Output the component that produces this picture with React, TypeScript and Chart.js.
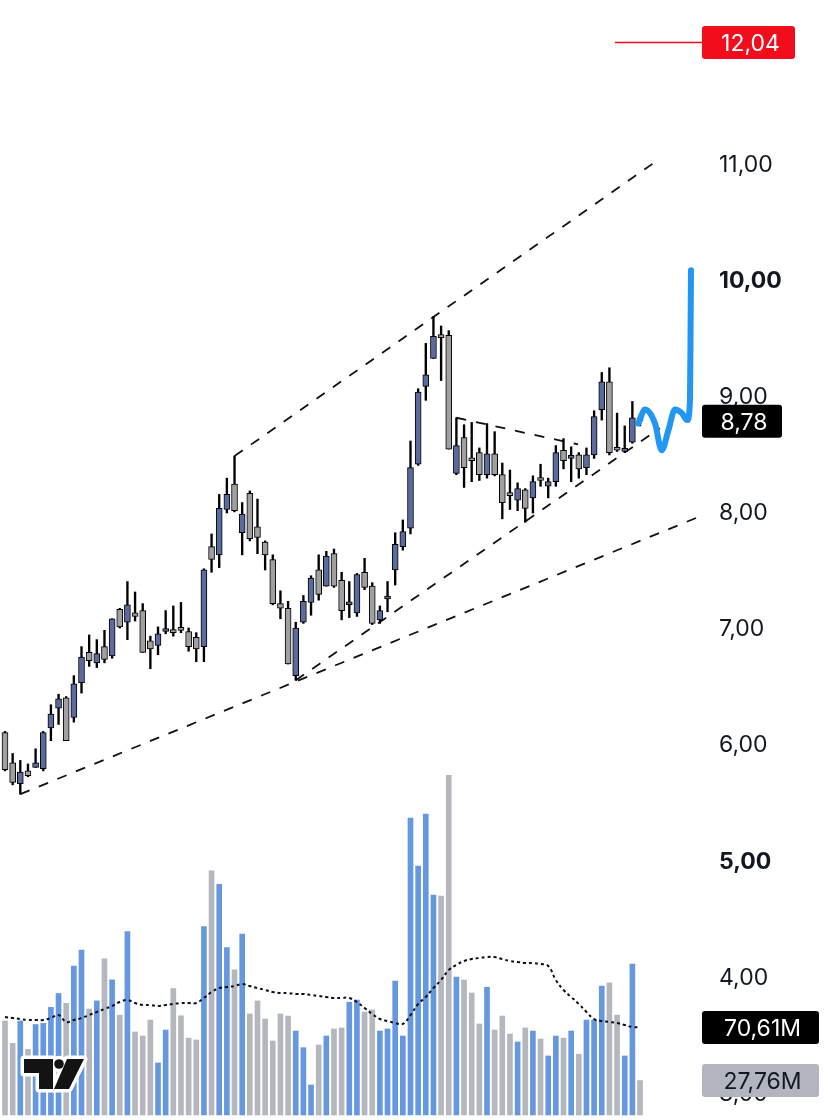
import { useEffect, useRef } from "react";
import { Chart, registerables } from "chart.js";

Chart.register(...registerables);

// ---- Data ----
const opens = [
  6.10, 5.84, 5.66, 5.77, 5.80, 5.79, 6.14, 6.31, 6.40, 6.23,
  6.53, 6.79, 6.70, 6.84, 6.76, 7.16, 7.05, 7.13, 7.15, 6.89,
  6.85, 6.97, 6.97, 6.99, 6.97, 6.92, 6.84, 7.70, 7.63, 8.02,
  8.24, 7.82, 8.16, 7.87, 7.74, 7.59, 7.21, 7.17, 6.59, 7.05,
  7.22, 7.50, 7.36, 7.64, 7.41, 7.20, 7.13, 7.48, 7.36, 7.07,
  7.25, 7.50, 7.70, 7.86, 8.41, 9.08, 9.32, 9.52, 9.52, 8.33,
  8.64, 8.45, 8.51, 8.32, 8.50, 8.32, 8.15, 8.10, 8.19, 8.12,
  8.28, 8.22, 8.26, 8.53, 8.46, 8.49, 8.38, 8.49, 8.88, 9.12,
  8.54, 8.52, 8.60, 8.81,
];
const highs = [
  6.11, 5.92, 5.86, 5.83, 5.96, 6.11, 6.34, 6.43, 6.41, 6.59,
  6.84, 6.94, 6.90, 6.98, 7.08, 7.17, 7.40, 7.31, 7.21, 6.93,
  7.01, 7.15, 7.19, 7.22, 7.00, 6.96, 7.51, 7.81, 8.15, 8.29,
  8.48, 8.08, 8.18, 8.11, 7.75, 7.63, 7.32, 7.23, 7.05, 7.28,
  7.45, 7.63, 7.66, 7.68, 7.48, 7.40, 7.47, 7.60, 7.39, 7.19,
  7.40, 7.82, 7.93, 8.61, 9.06, 9.45, 9.68, 9.60, 9.56, 8.81,
  8.75, 8.77, 8.55, 8.76, 8.69, 8.42, 8.36, 8.25, 8.20, 8.31,
  8.41, 8.29, 8.57, 8.63, 8.56, 8.51, 8.55, 8.87, 9.20, 9.24,
  8.85, 8.74, 8.95, 8.84,
];
const lows = [
  5.77, 5.65, 5.57, 5.72, 5.80, 5.77, 6.03, 6.17, 6.03, 6.19,
  6.44, 6.67, 6.66, 6.70, 6.74, 7.00, 6.90, 7.06, 6.79, 6.65,
  6.77, 6.95, 6.93, 6.96, 6.80, 6.71, 6.71, 7.48, 7.52, 7.99,
  8.00, 7.63, 7.75, 7.64, 7.50, 7.20, 7.08, 6.69, 6.55, 7.04,
  7.11, 7.24, 7.36, 7.35, 7.07, 7.09, 7.10, 7.33, 7.03, 7.04,
  7.14, 7.37, 7.67, 7.81, 8.40, 8.96, 9.32, 9.13, 8.54, 8.32,
  8.21, 8.26, 8.27, 8.29, 8.31, 7.94, 8.02, 8.01, 7.91, 7.99,
  8.22, 8.12, 8.22, 8.37, 8.26, 8.29, 8.32, 8.46, 8.79, 8.49,
  8.52, 8.51, 8.59, 8.74,
];
const closes = [
  5.78, 5.67, 5.76, 5.73, 5.84, 6.10, 6.26, 6.39, 6.03, 6.52,
  6.75, 6.72, 6.78, 6.73, 7.08, 7.01, 7.20, 7.10, 6.79, 6.82,
  6.95, 6.98, 6.96, 6.98, 6.84, 6.82, 7.50, 7.59, 8.03, 8.15,
  8.01, 7.98, 7.77, 7.78, 7.63, 7.21, 7.17, 6.69, 7.00, 7.23,
  7.43, 7.29, 7.62, 7.36, 7.15, 7.21, 7.46, 7.35, 7.04, 7.15,
  7.26, 7.72, 7.83, 8.38, 9.03, 9.18, 9.51, 9.50, 8.54, 8.57,
  8.38, 8.44, 8.32, 8.50, 8.32, 8.08, 8.14, 8.20, 8.03, 8.26,
  8.27, 8.26, 8.51, 8.44, 8.47, 8.37, 8.49, 8.82, 9.12, 8.51,
  8.53, 8.53, 8.81, 8.78,
];
// volume in millions
const volumes = [
  75.8, 57.8, 75.8, 53.0, 73.0, 73.9, 86.8, 98.0, 90.0, 120.0,
  133.0, 85.5, 92.0, 126.0, 109.0, 80.6, 148.0, 67.0, 63.7, 76.6,
  42.0, 68.5, 102.0, 80.0, 62.0, 60.5, 152.0, 197.0, 186.0, 135.0,
  117.0, 146.0, 81.5, 92.0, 77.4, 59.7, 81.5, 79.8, 67.7, 54.3,
  24.2, 56.5, 63.7, 69.4, 70.2, 91.0, 92.7, 83.0, 84.7, 67.7,
  69.4, 108.0, 63.7, 239.5, 200.8, 242.7, 177.4, 176.6, 274.0, 111.3,
  108.9, 98.4, 73.4, 103.0, 68.5, 79.8, 65.3, 58.9, 70.2, 67.7,
  61.3, 47.6, 63.7, 62.0, 67.7, 49.0, 76.6, 76.6, 104.0, 106.5,
  80.6, 47.6, 121.8, 27.76,
];
const volumeMA = [
  79.0, 78.2, 77.4, 76.6, 76.6, 76.6, 78.2, 80.6, 75.0, 76.6,
  78.2, 80.6, 83.1, 85.5, 87.9, 91.1, 92.7, 90.3, 88.7, 88.7,
  87.9, 88.7, 89.5, 90.3, 90.3, 90.3, 94.4, 99.2, 102.4, 103.2,
  104.0, 105.6, 104.0, 102.4, 100.8, 99.2, 98.4, 98.4, 97.6, 97.6,
  96.8, 96.0, 95.2, 94.4, 94.4, 94.4, 91.1, 86.3, 81.5, 77.4,
  75.8, 74.2, 73.4, 80.6, 89.5, 95.2, 102.4, 108.9, 116.9, 121.0,
  124.2, 125.8, 126.6, 127.4, 127.4, 125.8, 124.2, 123.4, 122.6, 122.6,
  121.8, 120.2, 108.9, 100.8, 95.2, 89.5, 83.1, 77.4, 75.8, 75.0,
  74.2, 72.6, 71.0, 70.61,
];
const priceTicks = [11, 10, 9, 8, 7, 6, 5, 4, 3];
const boldTicks = [10, 5];
const lastPrice = 8.78;
const alertPrice = 12.04;
const lastVolumeMA = 70.61;
const lastVolume = 27.76;

// drawn trend lines (bar index, price)
const upperChannelX = [30, 85.6];
const upperChannelY = [8.48, 11.04];
const lowerChannelX = [2, 90.8];
const lowerChannelY = [5.57, 7.96];
const innerSupportX = [38, 85.6];
const innerSupportY = [6.55, 8.72];
const triangleTopX = [59, 74.9];
const triangleTopY = [8.81, 8.58];
const alertLineX = [79.7, 91.1];
// hand-drawn projection
const projectionX = [82.77, 83.65, 84.96, 85.83, 86.7, 87.57, 88.45, 89.18, 89.53, 89.62, 89.66];
const projectionY = [8.76, 8.88, 8.76, 8.53, 8.70, 8.88, 8.85, 8.79, 8.96, 9.68, 10.08];

const fmt = (v: number) => v.toFixed(2).replace(".", ",");

const UP_BODY = "#5c6b9e";
const DOWN_BODY = "#a0a0a3";
const UP_VOL = "#6698e0";
const DOWN_VOL = "#b5b7bf";
const RED = "#f20d1d";
const FONT = "Inter, 'Noto Sans', sans-serif";
const CAP = 8.3; // half the digit height, to centre digits on a value

function roundRect(ctx: CanvasRenderingContext2D, x: number, y: number, w: number, h: number, r: number) {
  ctx.beginPath();
  ctx.moveTo(x + r, y);
  ctx.lineTo(x + w - r, y);
  ctx.quadraticCurveTo(x + w, y, x + w, y + r);
  ctx.lineTo(x + w, y + h - r);
  ctx.quadraticCurveTo(x + w, y + h, x + w - r, y + h);
  ctx.lineTo(x + r, y + h);
  ctx.quadraticCurveTo(x, y + h, x, y + h - r);
  ctx.lineTo(x, y + r);
  ctx.quadraticCurveTo(x, y, x + r, y);
  ctx.closePath();
}

const overlayPlugin = {
  id: "overlay",
  afterDraw(chart: any) {
    const ctx: CanvasRenderingContext2D = chart.ctx;
    const ys = chart.scales.y;
    const yv = chart.scales.yVol;
    ctx.save();
    ctx.textBaseline = "alphabetic";
    // price axis labels
    ctx.textAlign = "left";
    for (const t of priceTicks) {
      ctx.font = `${boldTicks.includes(t) ? "bold " : ""}23px ${FONT}`;
      ctx.fillStyle = "#131722";
      ctx.fillText(fmt(t), 719, ys.getPixelForValue(t) + CAP);
    }
    const box = (x0: number, x1: number, yc: number, bg: string, fg: string, text: string) => {
      ctx.fillStyle = bg;
      roundRect(ctx, x0, yc - 16.5, x1 - x0, 33, 3);
      ctx.fill();
      ctx.fillStyle = fg;
      ctx.textAlign = "center";
      ctx.font = `23px ${FONT}`;
      ctx.fillText(text, (x0 + x1) / 2 + 2, yc + CAP);
    };
    box(702, 795, ys.getPixelForValue(alertPrice), RED, "#ffffff", fmt(alertPrice));
    box(702, 782, ys.getPixelForValue(lastPrice), "#000000", "#ffffff", fmt(lastPrice));
    box(702, 819, yv.getPixelForValue(lastVolumeMA), "#000000", "#ffffff", fmt(lastVolumeMA) + "M");
    box(702, 819, yv.getPixelForValue(lastVolume), "#b2b5be", "#131722", fmt(lastVolume) + "M");

    // logo
    const tShape = () => {
      ctx.beginPath();
      ctx.moveTo(24, 1059);
      ctx.lineTo(53, 1059);
      ctx.lineTo(53, 1089);
      ctx.lineTo(39, 1089);
      ctx.lineTo(39, 1073);
      ctx.lineTo(24, 1073);
      ctx.closePath();
    };
    const slash = () => {
      ctx.beginPath();
      ctx.moveTo(67, 1059);
      ctx.lineTo(84, 1059);
      ctx.lineTo(69, 1089);
      ctx.lineTo(54, 1089);
      ctx.closePath();
    };
    const dot = () => {
      ctx.beginPath();
      ctx.arc(59, 1064, 4.8, 0, Math.PI * 2);
      ctx.closePath();
    };
    ctx.fillStyle = "#ffffff";
    ctx.strokeStyle = "#ffffff";
    ctx.lineWidth = 7;
    ctx.lineJoin = "round";
    for (const s of [tShape, slash, dot]) {
      s();
      ctx.stroke();
      ctx.fill();
    }
    ctx.fillStyle = "#131313";
    for (const s of [tShape, slash, dot]) {
      s();
      ctx.fill();
    }
    ctx.restore();
  },
};

export default function App() {
  const ref = useRef<HTMLCanvasElement | null>(null);
  useEffect(() => {
    if (!ref.current) return;
    const idx = opens.map((_, i) => i);
    const isUp = (i: number) => closes[i] >= opens[i];
    const line = (xs: number[], ys: number[]) => xs.map((x, i) => ({ x, y: ys[i] }));
    const dashed = (xs: number[], ys: number[]) => ({
      type: "line" as const,
      data: line(xs, ys),
      yAxisID: "y",
      borderColor: "#111111",
      borderWidth: 1.8,
      borderDash: [10, 10],
      pointRadius: 0,
      fill: false,
      order: 6,
    });
    const chart = new Chart(ref.current, {
      type: "bar",
      data: {
        datasets: [
          {
            type: "bar",
            data: idx.map((i) => ({ x: i, y: volumes[i] })),
            yAxisID: "yVol",
            backgroundColor: idx.map((i) => (isUp(i) ? UP_VOL : DOWN_VOL)),
            barThickness: 5,
            grouped: false,
            order: 10,
          } as any,
          {
            type: "line",
            data: idx.map((i) => ({ x: i, y: volumeMA[i] })),
            yAxisID: "yVol",
            borderColor: "#0b0e1a",
            borderWidth: 2,
            borderDash: [3, 3],
            pointRadius: 0,
            tension: 0.4,
            fill: false,
            order: 9,
          },
          dashed(upperChannelX, upperChannelY),
          dashed(lowerChannelX, lowerChannelY),
          dashed(innerSupportX, innerSupportY),
          dashed(triangleTopX, triangleTopY),
          {
            type: "bar",
            data: idx.map((i) => ({ x: i, y: [lows[i], highs[i]] })),
            yAxisID: "y",
            backgroundColor: "#000000",
            barThickness: 1.7,
            grouped: false,
            order: 5,
          } as any,
          {
            type: "bar",
            data: idx.map((i) => ({ x: i, y: [opens[i], closes[i]] })),
            yAxisID: "y",
            backgroundColor: idx.map((i) => (isUp(i) ? UP_BODY : DOWN_BODY)),
            borderColor: "#000000",
            borderWidth: 1,
            borderSkipped: false,
            barThickness: 6,
            minBarLength: 3,
            grouped: false,
            order: 4,
          } as any,
          {
            type: "line",
            data: line(alertLineX, [alertPrice, alertPrice]),
            yAxisID: "y",
            borderColor: RED,
            borderWidth: 1.5,
            pointRadius: 0,
            fill: false,
            order: 2,
          },
          {
            type: "line",
            data: line(projectionX, projectionY),
            yAxisID: "y",
            borderColor: "#2196f3",
            borderWidth: 6,
            borderCapStyle: "round",
            borderJoinStyle: "round",
            cubicInterpolationMode: "monotone",
            pointRadius: 0,
            fill: false,
            order: 1,
          },
        ],
      },
      options: {
        responsive: false,
        animation: false,
        devicePixelRatio: 1,
        events: [],
        layout: { padding: 0 },
        plugins: {
          legend: { display: false },
          tooltip: { enabled: false },
          title: { display: false },
        },
        scales: {
          x: { type: "linear", min: -0.6535, max: 107.57, display: false, offset: false },
          y: { type: "linear", min: 2.765, max: 12.406, display: false },
          yVol: { type: "linear", min: -4.03, max: 899.2, display: false },
        },
      } as any,
      plugins: [overlayPlugin],
    });
    return () => chart.destroy();
  }, []);
  return (
    <div style={{ position: "absolute", left: 0, top: 0, width: 828, height: 1120, background: "#ffffff" }}>
      <canvas ref={ref} width={828} height={1120} style={{ display: "block" }} />
    </div>
  );
}
